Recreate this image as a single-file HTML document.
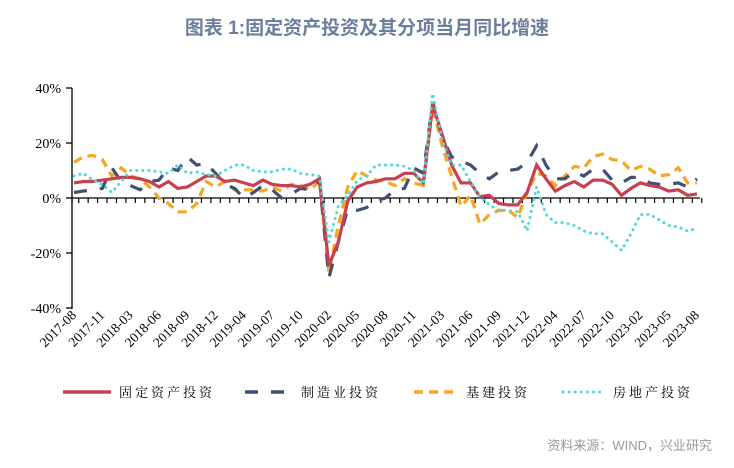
<!DOCTYPE html>
<html><head><meta charset="utf-8"><style>
html,body{margin:0;padding:0;background:#fff;width:734px;height:468px;overflow:hidden}
svg text{font-family:"Liberation Serif","Noto Serif CJK SC",serif}
</style></head><body>
<svg id="s" width="734" height="468" xmlns="http://www.w3.org/2000/svg">
<text x="367" y="34" text-anchor="middle" font-size="19" font-weight="bold" fill="#6b7f9c" style="font-family:'Liberation Sans','Noto Sans CJK SC',sans-serif">图表 1:固定资产投资及其分项当月同比增速</text>
<g font-size="14" fill="#000" text-anchor="end">
<text x="61" y="93">40%</text><text x="61" y="148">20%</text><text x="61" y="203">0%</text><text x="61" y="258">-20%</text><text x="61" y="313">-40%</text>
</g>
<line x1="72" y1="88" x2="72" y2="309" stroke="#000" stroke-width="1.3"/>
<g id="yt" stroke="#000" stroke-width="1.3"></g>
<line x1="72" y1="198" x2="700" y2="198" stroke="#000" stroke-width="1.3"/>
<g id="xt" stroke="#000" stroke-width="1.2"></g>
<g id="lines" fill="none"></g>
<g id="xl" font-size="13.5" fill="#000"></g>
<g font-size="13" fill="#000" style="font-family:'Liberation Sans','Noto Serif CJK SC',serif">
<line x1="63" y1="392" x2="111" y2="392" stroke="#c8404f" stroke-width="3.5"/>
<text x="119" y="397" letter-spacing="3">固定资产投资</text>
<line x1="245" y1="392" x2="286" y2="392" stroke="#3f5070" stroke-width="3.5" stroke-dasharray="13,13"/>
<text x="301" y="397" letter-spacing="3">制造业投资</text>
<line x1="414" y1="392" x2="458" y2="392" stroke="#f5a623" stroke-width="3.5" stroke-dasharray="9,6"/>
<text x="466" y="397" letter-spacing="3">基建投资</text>
<line x1="563" y1="392" x2="605" y2="392" stroke="#4dd9d9" stroke-width="3" stroke-dasharray="0.1,6" stroke-linecap="round"/>
<text x="613" y="397" letter-spacing="3">房地产投资</text>
</g>
<text x="712" y="450" text-anchor="end" font-size="13" fill="#999" style="font-family:'Liberation Sans','Noto Sans CJK SC',sans-serif">资料来源：WIND，兴业研究</text>
</svg>
<script>
var X=i=>74+i*9.44, Y=v=>198-v*2.75;
var red=[5.5,6,6,6.5,7,7.5,7.5,7,6,4,6,3.5,4,6,8,8,6,6.5,5.5,4.5,6.5,5,4.5,4.5,4,5,7,-24.5,-16,-1,4,5.5,6,7,7,9,9,5.5,34,23,12,5.5,5.5,0.5,1,-2,-2.5,-2.5,2,12,7,2.5,4.5,6,4,6.5,6.5,5,1,3.5,5.5,4.5,4,2.5,3,1,1.5];
var navy=[2,2.5,3,3.5,11,6,4.5,3,6,6.5,11,10,15,12,12.5,9,5,3.5,0,2,4.5,3,0,1.5,3.5,3,6.5,-29,-16,-4,-4.5,-3.5,-1,0,3,3.5,11,9,35,22,15,13.5,12,9,7,9.5,10,10.5,13,19,12,7,7,9.5,8,10.5,10.5,6.5,5.5,7.5,7.5,5.5,5,5,5.5,4,7];
var org=[13,15,15.5,14,8,11,8,7,4,0,-2,-5,-5,-2,6,4,6,3,3,3,2.5,4,2.5,5,4.5,3,6,-27,-10,4,10,8,6.5,6,4.5,7,5.5,4.5,33,19,8,-3,1,-9.5,-6,-4.5,-4.5,-7,2,9,8,4.5,8,11.5,11,15,16,14,13.5,10,11.5,10.5,8,8.5,11,5.5,5.5];
var cy=[8,9,6.5,5,2,6,10,10,10,9.5,9,12,9,9.5,8.5,8,10,12,12,10,9.5,9.5,10.5,10.5,9,8.5,8,-16,-3,1,6.5,8,12,12,12,11.5,10,5,38,21,12,12,6,0.5,-2.5,-4.5,-4.5,-5,-12,4,-6,-9,-9,-10,-12,-13,-13,-16,-19,-13,-6,-6,-8,-10,-10.5,-12,-11];
var ns="http://www.w3.org/2000/svg";
function el(t,a,p){var e=document.createElementNS(ns,t);for(var k in a)e.setAttribute(k,a[k]);document.getElementById(p).appendChild(e);return e;}
function path(d,a){var s="";d.forEach((v,i)=>s+=(i?"L":"M")+X(i).toFixed(1)+","+Y(v).toFixed(1));a.d=s;el("path",a,"lines");}
for(var i=0;i<=67;i++){var x=74+(i-0.5)*9.44;if(i==0)x=72;el("line",{x1:x,y1:198,x2:x,y2:203},"xt");}
[88,143,198,253,308].forEach(y=>el("line",{x1:66,y1:y,x2:72,y2:y},"yt"));
path(org,{stroke:"#f5a623","stroke-width":3.2,"stroke-dasharray":"9,6"});
path(navy,{stroke:"#3f5070","stroke-width":3.2,"stroke-dasharray":"13,13"});
path(red,{stroke:"#c8404f","stroke-width":3.2});
path(cy,{stroke:"#4dd9d9","stroke-width":3,"stroke-dasharray":"0.1,6","stroke-linecap":"round"});
var labs=["2017-08","2017-11","2018-03","2018-06","2018-09","2018-12","2019-04","2019-07","2019-10","2020-02","2020-05","2020-08","2020-11","2021-03","2021-06","2021-09","2021-12","2022-04","2022-07","2022-10","2023-02","2023-05","2023-08"];
labs.forEach((l,k)=>{var x=X(k*3)+3,y=316;var t=el("text",{x:x,y:y,"text-anchor":"end",transform:"rotate(-45 "+x+" "+y+")"},"xl");t.textContent=l;});
</script>
</body></html>
